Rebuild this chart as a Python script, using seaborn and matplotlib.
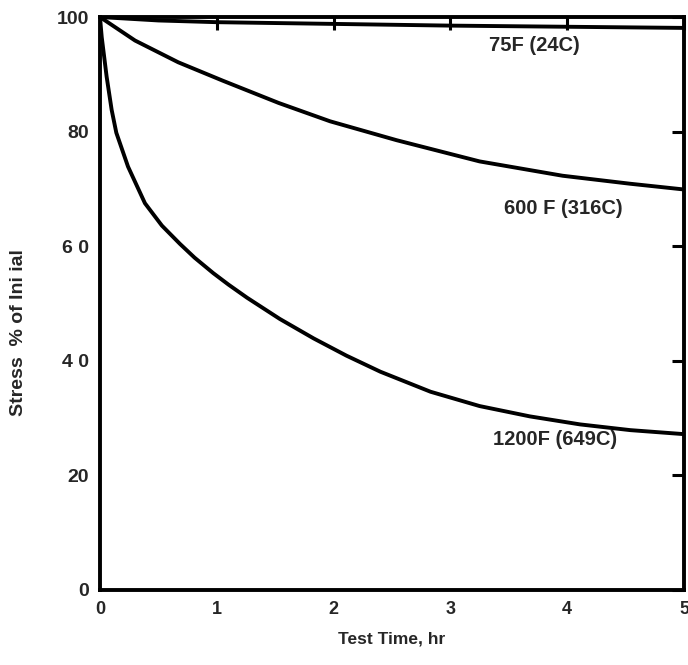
import numpy as np
import pandas as pd
import matplotlib
matplotlib.use("Agg")
import matplotlib.pyplot as plt
import seaborn as sns

# Data
t_75 = [0, 0.5, 1, 2, 3, 4, 5]
v_75 = [100, 99.4, 99.1, 98.8, 98.5, 98.3, 98.1]

t_600 = [0, 0.30, 0.67, 1.05, 1.53, 1.97, 2.54, 3.25, 3.96, 4.54, 5.0]
v_600 = [100, 95.9, 92.1, 88.9, 85.0, 81.8, 78.5, 74.8, 72.3, 70.9, 69.9]

t_1200 = [0, 0.015, 0.057, 0.10, 0.14, 0.24, 0.385, 0.53, 0.685, 0.81, 0.97, 1.10,
          1.26, 1.54, 1.83, 2.11, 2.40, 2.83, 3.25, 3.68, 4.11, 4.54, 5.0]
v_1200 = [100, 96.5, 89.6, 83.8, 79.8, 73.9, 67.5, 63.6, 60.4, 58.0, 55.3, 53.3,
          51.0, 47.3, 43.9, 40.9, 38.1, 34.6, 32.1, 30.3, 28.9, 27.9, 27.2]

series_names = ["75F (24C)", "600 F (316C)", "1200F (649C)"]
label_pos_t = [3.72, 3.97, 3.90]
label_pos_v = [95.0, 66.6, 26.3]

x_ticks = [0, 1, 2, 3, 4, 5]
x_tick_labels = ["0", "1", "2", "3", "4", "5"]
y_ticks = [0, 20, 40, 60, 80, 100]
y_tick_labels = ["0", "20", "4 0", "6 0", "80", "100"]

frames = []
for name, t, v in zip(series_names, [t_75, t_600, t_1200], [v_75, v_600, v_1200]):
    frames.append(pd.DataFrame({"time": t, "stress": v, "series": name}))
df = pd.concat(frames, ignore_index=True)

sns.set_style("white")
plt.rcParams["font.family"] = ["Liberation Sans", "DejaVu Sans"]

fig = plt.figure(figsize=(6.88, 6.65), dpi=100)
ax = fig.add_axes([0.1453, 0.1128, 0.8489, 0.8616])

sns.lineplot(data=df, x="time", y="stress", hue="series",
             palette=["black"] * 3, linewidth=2.8, legend=False, ax=ax,
             estimator=None, sort=True)
for ln in ax.lines:
    ln.set_solid_joinstyle("round")
    ln.set_solid_capstyle("round")

ax.set_xlim(0, 5)
ax.set_ylim(0, 100)
ax.set_xticks(x_ticks)
ax.set_xticklabels(x_tick_labels, fontsize=13, fontweight="bold")
ax.set_yticks(y_ticks)
ax.set_yticklabels(y_tick_labels, fontsize=14, fontweight="bold")
ax.tick_params(axis="both", direction="in", length=9, width=2.2,
               top=True, right=True, pad=8, color="black")
for s in ax.spines.values():
    s.set_visible(True)
    s.set_linewidth(2.8)
    s.set_color("black")

ax.set_xlabel("Test Time, hr", fontsize=12.5, fontweight="bold", labelpad=10)
ax.set_ylabel("Stress  % of Ini ial", fontsize=14, fontweight="bold")
ax.yaxis.set_label_coords(-0.125, 0.45)

for name, tx, ty in zip(series_names, label_pos_t, label_pos_v):
    ax.text(tx, ty, name, ha="center", va="center", fontsize=14.5,
            fontweight="bold")

fig.savefig("out.png", dpi=100)
